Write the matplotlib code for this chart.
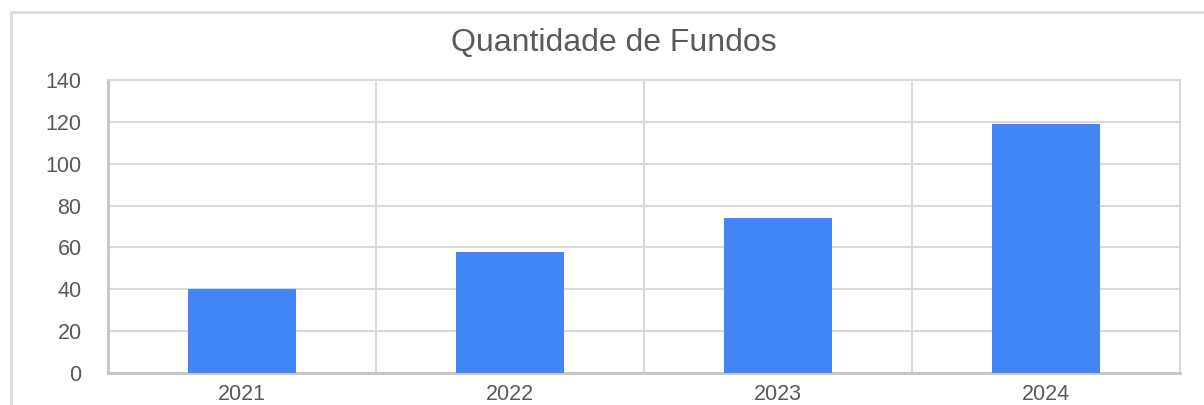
import matplotlib
matplotlib.use("Agg")
import matplotlib.pyplot as plt
from matplotlib.patches import Rectangle

# dados
anos = ["2021", "2022", "2023", "2024"]
quantidade = [40, 58, 74, 119]
y_ticks = [0, 20, 40, 60, 80, 100, 120, 140]

plt.rcParams['font.family'] = ['Liberation Sans', 'DejaVu Sans']

fig = plt.figure(figsize=(12.04, 4.05), dpi=100)
ax = fig.add_axes([108 / 1204, 32 / 405, (1180 - 108) / 1204, (373 - 80) / 405])

# moldura externa do gráfico
fig.patches.append(Rectangle((11 / 1204, -0.05), 1.2, (405 - 12) / 405 + 0.05,
                             transform=fig.transFigure, fill=False,
                             edgecolor='#dadada', linewidth=2, zorder=0))

x = list(range(len(anos)))
ax.bar(x, quantidade, width=0.4, color='#4285f4', zorder=3)

ax.set_xlim(-0.5, len(anos) - 0.5)
ax.set_ylim(0, 140)
ax.set_yticks(y_ticks)
ax.set_xticks(x)
ax.set_xticklabels(anos)

# grades horizontais e separadores verticais
ax.grid(axis='y', color='#d9d9d9', linewidth=1.5, zorder=0)
for sep in [0.5, 1.5, 2.5]:
    ax.axvline(sep, color='#d9d9d9', linewidth=1.5, zorder=0)

for s in ['top', 'right']:
    ax.spines[s].set_color('#d9d9d9')
    ax.spines[s].set_linewidth(1.5)
for s in ['left', 'bottom']:
    ax.spines[s].set_color('#c4c4c4')
    ax.spines[s].set_linewidth(2)

ax.tick_params(axis='both', length=0, labelsize=15.5, labelcolor='#595959')
ax.tick_params(axis='y', pad=19)
ax.tick_params(axis='x', pad=8)

fig.text(614 / 1204, 1 - 43 / 405, "Quantidade de Fundos", ha='center', va='center',
         fontsize=23, color='#595959')

fig.savefig("out.png", dpi=100)
